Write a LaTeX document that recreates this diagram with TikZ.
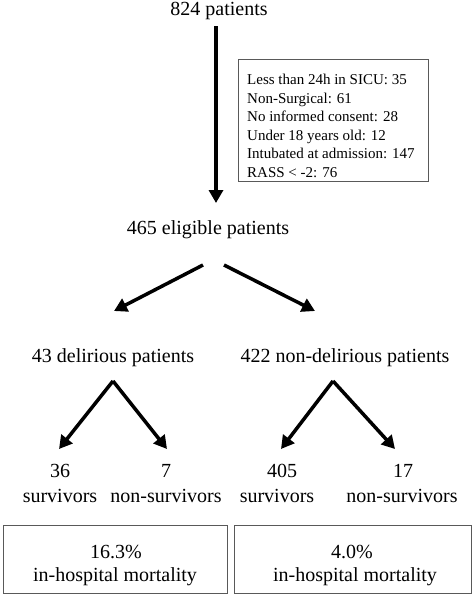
\documentclass[tikz,border=0pt]{standalone}
\usepackage{fontspec}
\setmainfont{Liberation Serif}
\usetikzlibrary{arrows.meta}
\begin{document}
\begin{tikzpicture}[x=1pt,y=-1pt,
  lbl/.style={inner sep=0pt,font=\fontsize{20}{22}\selectfont,align=center},
  arr/.style={line width=3.5pt,-{Triangle[length=13pt,width=14pt]}},
  gbox/.style={draw=black!65,line width=1.3pt}]
\useasboundingbox (0,0) rectangle (474,597);
\node[lbl] (n824) at (219,11) {824 patients};
\node[lbl] (n465) at (208,230) {465 eligible patients};
\coordinate (a1s) at (216,26);
\coordinate (a1e) at (216,203);
\draw[arr] (a1s) -- (a1e);
\node[gbox,anchor=north west,minimum width=190pt,minimum height=122pt,inner sep=0pt] (excl) at (238,59) {};
\node[anchor=west,inner sep=0pt,align=left,font=\fontsize{15}{18.5}\selectfont] (excltxt) at (247,126)
  {Less than 24h in SICU: 35\\Non-Surgical: 61\\No informed consent: 28\\Under 18 years old: 12\\Intubated at admission: 147\\RASS < -2: 76};
\coordinate (b1s) at (203,265);
\coordinate (b1e) at (114,311);
\coordinate (b2s) at (224,265);
\coordinate (b2e) at (315,311);
\draw[arr] (b1s) -- (b1e);
\draw[arr] (b2s) -- (b2e);
\node[lbl] (del) at (113,358) {43 delirious patients};
\node[lbl] (ndel) at (345,358) {422 non-delirious patients};
\coordinate (c1) at (113,381);
\coordinate (c1l) at (59,449);
\coordinate (c1r) at (167,449);
\coordinate (c2) at (333,381);
\coordinate (c2l) at (281,449);
\coordinate (c2r) at (395,449);
\draw[arr] (c1) -- (c1l);
\draw[arr] (c1) -- (c1r);
\draw[arr] (c2) -- (c2l);
\draw[arr] (c2) -- (c2r);
\node[lbl] (s1) at (60,471) {36};
\node[lbl] (s1t) at (60,496) {survivors};
\node[lbl] (d1) at (166,471) {7};
\node[lbl] (d1t) at (166,496) {non-survivors};
\node[lbl] (s2) at (282,471) {405};
\node[lbl] (s2t) at (277,496) {survivors};
\node[lbl] (d2) at (403,471) {17};
\node[lbl] (d2t) at (402,496) {non-survivors};
\node[gbox,anchor=north west,minimum width=224pt,minimum height=68pt,inner sep=0pt] (m1) at (3,525) {};
\node[gbox,anchor=north west,minimum width=237pt,minimum height=68pt,inner sep=0pt] (m2) at (234,525) {};
\node[lbl] (m1a) at (116,552) {16.3\%};
\node[lbl] (m1b) at (115,577) {in-hospital mortality};
\node[lbl] (m2a) at (352,552) {4.0\%};
\node[lbl] (m2b) at (355,577) {in-hospital mortality};
\end{tikzpicture}
\end{document}
